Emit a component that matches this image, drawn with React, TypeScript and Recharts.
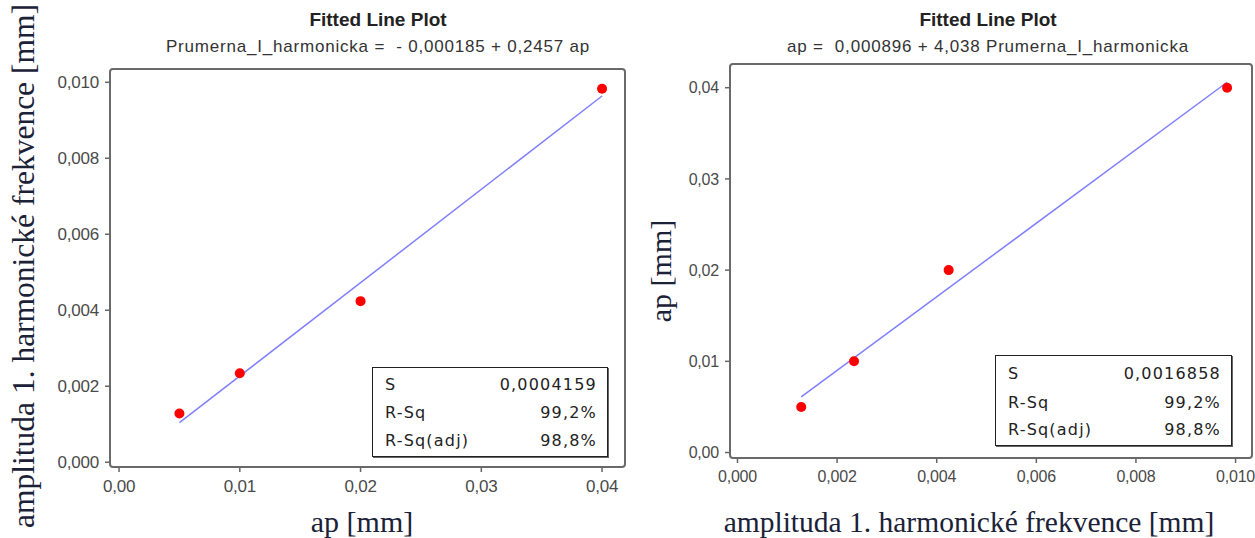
import React from "react";
import { ReferenceArea, Scatter, ScatterChart, XAxis, YAxis } from "recharts";

// measured values (ap = depth of cut, amplitude of 1st harmonic)
const apValues = [0.005, 0.01, 0.02, 0.04];
const amplitudeValues = [0.00128, 0.00234, 0.00424, 0.00983];

// end points of the fitted lines
const leftFitX = [0.005, 0.04];
const leftFitY = [0.00104, 0.00964];
const rightFitX = [0.00128, 0.00983];
const rightFitY = [0.0061, 0.0406];

const leftXTicks = [0, 0.01, 0.02, 0.03, 0.04];
const leftXTickLabels = ["0,00", "0,01", "0,02", "0,03", "0,04"];
const leftYTicks = [0, 0.002, 0.004, 0.006, 0.008, 0.01];
const leftYTickLabels = ["0,000", "0,002", "0,004", "0,006", "0,008", "0,010"];
const rightXTicks = [0, 0.002, 0.004, 0.006, 0.008, 0.01];
const rightXTickLabels = ["0,000", "0,002", "0,004", "0,006", "0,008", "0,010"];
const rightYTicks = [0, 0.01, 0.02, 0.03, 0.04];
const rightYTickLabels = ["0,00", "0,01", "0,02", "0,03", "0,04"];

const statNames = ["S", "R-Sq", "R-Sq(adj)"];
const leftStatValues = ["0,0004159", "99,2%", "98,8%"];
const rightStatValues = ["0,0016858", "99,2%", "98,8%"];

const SANS = "'Liberation Sans', Arial, sans-serif";
const SERIF = "'Liberation Serif', 'Times New Roman', serif";
const AXIS_TITLE_COLOR = "#1b2238";
const TICK_COLOR = "#4a4a4a";

type Margin = { top: number; right: number; bottom: number; left: number };

interface PanelProps {
  left: number;
  width: number;
  margin: Margin;
  xDomain: [number, number];
  yDomain: [number, number];
  xTicks: number[];
  xTickLabels: string[];
  yTicks: number[];
  yTickLabels: string[];
  tickFont: number;
  points: { x: number; y: number }[];
  fit: { x: number; y: number }[];
  subtitle: string;
  titleX: number;
  xTitle: string;
  xTitleX: number;
  xTitleSize: number;
  yTitle: string;
  yTitleX: number;
  yTitleY: number;
  yTitleSize: number;
  statValues: string[];
  box: { x: number; y: number; w: number; h: number; rows: number[] };
}

function Dot(props: any) {
  return <circle cx={props.cx} cy={props.cy} r={5} fill="#ff0000" />;
}

function FitPanel(p: PanelProps) {
  const height = 538;
  const tickStyle = { fill: TICK_COLOR, fontSize: p.tickFont, fontFamily: SANS, letterSpacing: -0.2 };
  return (
    <div style={{ position: "absolute", left: p.left, top: 0, width: p.width, height }}>
      <ScatterChart width={p.width} height={height} margin={p.margin}>
        <XAxis
          type="number"
          dataKey="x"
          domain={p.xDomain}
          ticks={p.xTicks}
          tickFormatter={(v: number) => p.xTickLabels[p.xTicks.indexOf(v)]}
          axisLine={false}
          tickLine={{ stroke: "#666", strokeWidth: 1.5 }}
          tickSize={5}
          tickMargin={8}
          height={40}
          tick={tickStyle}
        />
        <YAxis
          type="number"
          dataKey="y"
          domain={p.yDomain}
          ticks={p.yTicks}
          tickFormatter={(v: number) => p.yTickLabels[p.yTicks.indexOf(v)]}
          axisLine={false}
          tickLine={{ stroke: "#666", strokeWidth: 1.5 }}
          tickSize={5}
          tickMargin={6}
          width={60}
          tick={tickStyle}
        />
        <ReferenceArea
          x1={p.xDomain[0]}
          x2={p.xDomain[1]}
          y1={p.yDomain[0]}
          y2={p.yDomain[1]}
          fill="none"
          stroke="#6a6a6a"
          strokeWidth={2}
          radius={3}
        />
        <Scatter
          data={p.fit}
          line={{ stroke: "#7f7fff", strokeWidth: 1.5 }}
          shape={() => <g />}
          isAnimationActive={false}
        />
        <Scatter data={p.points} shape={Dot} isAnimationActive={false} />
      </ScatterChart>

      <div
        style={{
          position: "absolute",
          left: p.titleX - p.left,
          top: 20,
          transform: "translate(-50%, -50%)",
          fontFamily: SANS,
          fontWeight: "bold",
          fontSize: 19,
          color: "#222",
          whiteSpace: "nowrap",
        }}
      >
        Fitted Line Plot
      </div>
      <div
        style={{
          position: "absolute",
          left: p.titleX - p.left,
          top: 47,
          transform: "translate(-50%, -50%)",
          fontFamily: SANS,
          fontSize: 17,
          letterSpacing: 0.8,
          color: "#333",
          whiteSpace: "pre",
        }}
      >
        {p.subtitle}
      </div>

      <div
        style={{
          position: "absolute",
          left: p.xTitleX - p.left,
          top: 522,
          transform: "translate(-50%, -50%)",
          fontFamily: SERIF,
          fontSize: p.xTitleSize,
          color: AXIS_TITLE_COLOR,
          whiteSpace: "nowrap",
        }}
      >
        {p.xTitle}
      </div>
      <div
        style={{
          position: "absolute",
          left: p.yTitleX - p.left,
          top: p.yTitleY,
          transform: "translate(-50%, -50%) rotate(-90deg)",
          fontFamily: SERIF,
          fontSize: p.yTitleSize,
          color: AXIS_TITLE_COLOR,
          whiteSpace: "nowrap",
        }}
      >
        {p.yTitle}
      </div>

      <div
        style={{
          position: "absolute",
          left: p.box.x - p.left,
          top: p.box.y,
          width: p.box.w,
          height: p.box.h,
          boxSizing: "border-box",
          border: "1.5px solid #222",
          boxShadow: "1px 1px 0 #666",
          background: "#fff",
          fontFamily: "'DejaVu Sans', sans-serif",
          fontSize: 16,
          letterSpacing: 1.2,
          color: "#222",
        }}
      >
        {statNames.map((name, i) => (
          <div
            key={name}
            style={{
              position: "absolute",
              left: 12,
              right: 10,
              top: p.box.rows[i],
              transform: "translateY(-50%)",
              display: "flex",
              justifyContent: "space-between",
            }}
          >
            <span>{name}</span>
            <span>{p.statValues[i]}</span>
          </div>
        ))}
      </div>
    </div>
  );
}

export default function App() {
  const leftPoints = apValues.map((x, i) => ({ x, y: amplitudeValues[i] }));
  const rightPoints = amplitudeValues.map((x, i) => ({ x, y: apValues[i] }));
  const leftFit = leftFitX.map((x, i) => ({ x, y: leftFitY[i] }));
  const rightFit = rightFitX.map((x, i) => ({ x, y: rightFitY[i] }));

  return (
    <div style={{ position: "absolute", left: 0, top: 0, width: 1255, height: 538, background: "#fff" }}>
      <FitPanel
        left={0}
        width={630}
        margin={{ top: 69, right: 5, bottom: 31, left: 50 }}
        xDomain={[-0.00075, 0.0419]}
        yDomain={[-0.000126, 0.01035]}
        xTicks={leftXTicks}
        xTickLabels={leftXTickLabels}
        yTicks={leftYTicks}
        yTickLabels={leftYTickLabels}
        tickFont={17}
        points={leftPoints}
        fit={leftFit}
        subtitle={"Prumerna_I_harmonicka =  - 0,000185 + 0,2457 ap"}
        titleX={378}
        xTitle="ap [mm]"
        xTitleX={362}
        xTitleSize={30}
        yTitle="amplituda 1. harmonické frekvence [mm]"
        yTitleX={24}
        yTitleY={266}
        yTitleSize={31.5}
        statValues={leftStatValues}
        box={{ x: 372, y: 367, w: 236, h: 90, rows: [16, 44, 72] }}
      />
      <FitPanel
        left={630}
        width={625}
        margin={{ top: 64, right: 3, bottom: 40, left: 40 }}
        xDomain={[-0.00015, 0.01033]}
        yDomain={[-0.0006, 0.0426]}
        xTicks={rightXTicks}
        xTickLabels={rightXTickLabels}
        yTicks={rightYTicks}
        yTickLabels={rightYTickLabels}
        tickFont={16}
        points={rightPoints}
        fit={rightFit}
        subtitle={"ap =  0,000896 + 4,038 Prumerna_I_harmonicka"}
        titleX={988}
        xTitle="amplituda 1. harmonické frekvence [mm]"
        xTitleX={969}
        xTitleSize={29.5}
        yTitle="ap [mm]"
        yTitleX={661}
        yTitleY={271}
        yTitleSize={30}
        statValues={rightStatValues}
        box={{ x: 995, y: 355, w: 237, h: 91, rows: [17, 46, 73] }}
      />
    </div>
  );
}
